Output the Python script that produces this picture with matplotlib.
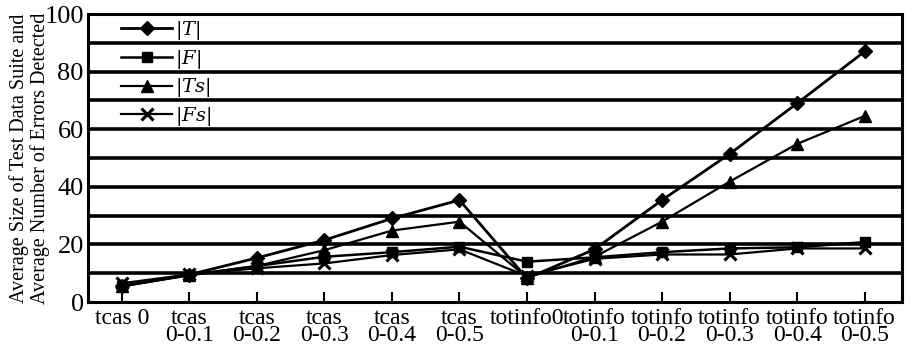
import matplotlib
matplotlib.use("Agg")
import matplotlib.pyplot as plt

categories = ["tcas 0", "tcas\n0-0.1", "tcas\n0-0.2", "tcas\n0-0.3", "tcas\n0-0.4", "tcas\n0-0.5",
              "totinfo0", "totinfo\n0-0.1", "totinfo\n0-0.2", "totinfo\n0-0.3", "totinfo\n0-0.4", "totinfo\n0-0.5"]
T_vals  = [5.5, 9.5, 15.3, 21.5, 29.0, 35.4, 8.2, 18.3, 35.4, 51.4, 69.0, 87.0]
F_vals  = [5.5, 9.3, 12.5, 15.7, 17.3, 19.2, 14.0, 15.5, 17.3, 18.6, 19.0, 20.8]
Ts_vals = [5.5, 9.4, 12.5, 18.0, 24.8, 27.9, 8.5, 15.7, 27.9, 41.8, 54.9, 64.6]
Fs_vals = [6.5, 9.6, 11.7, 13.4, 16.3, 18.3, 9.0, 15.0, 16.5, 16.5, 18.6, 18.6]
y_ticks = [0, 20, 40, 60, 80, 100]

plt.rcParams['font.family'] = ['Liberation Serif', 'DejaVu Serif']
plt.rcParams['mathtext.fontset'] = 'dejavuserif'

fig = plt.figure(figsize=(9.1, 3.51), dpi=100)
ax = fig.add_axes([0.0967, 0.1396, 0.8943, 0.8204])

for v in range(10, 100, 10):
    ax.axhline(v, color='black', lw=2.6, zorder=1)

x = list(range(len(categories)))
ax.plot(x, T_vals, color='black', lw=2.0, marker='D', ms=7, label=r'$|T|$', zorder=3)
ax.plot(x, F_vals, color='black', lw=1.8, marker='s', ms=7, label=r'$|F|$', zorder=3)
ax.plot(x, Ts_vals, color='black', lw=1.6, marker='^', ms=9, label=r'$|Ts|$', zorder=3)
ax.plot(x, Fs_vals, color='black', lw=1.6, marker='x', ms=9, mew=2.2, label=r'$|Fs|$', zorder=3)

ax.set_xlim(-0.5, 11.55)
ax.set_ylim(0, 100)
ax.set_yticks(y_ticks)
ax.set_yticklabels([str(t) for t in y_ticks], fontsize=19)
ax.tick_params(axis='y', length=0, pad=3)
ax.set_xticks(x)
ax.set_xticklabels(categories, fontsize=17, linespacing=0.8)
ax.tick_params(axis='x', direction='in', length=7, width=1.5, pad=4)

for s in ax.spines.values():
    s.set_linewidth(2.2)

ax.set_ylabel("Average Size of Test Data Suite and\nAverage Number of Errors Detected",
              fontsize=14.5, linespacing=1.05, labelpad=-4)

leg = ax.legend(loc='upper left', bbox_to_anchor=(0.028, 1.021), frameon=False,
                fontsize=14, handlelength=2.6, labelspacing=0.3, handletextpad=0.15,
                borderaxespad=0.15)

fig.savefig("out.png", dpi=100)
